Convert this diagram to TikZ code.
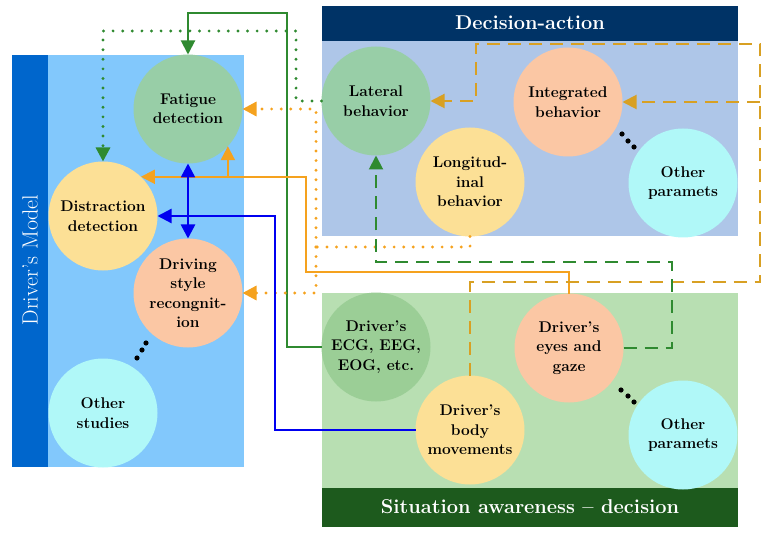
\documentclass[tikz,border=0pt]{standalone}
\usepackage{fontspec}
\usetikzlibrary{arrows.meta}

\definecolor{dmBar}{HTML}{0066CC}
\definecolor{dmFill}{HTML}{82C8FC}
\definecolor{daHead}{HTML}{003366}
\definecolor{daFill}{HTML}{AEC6E8}
\definecolor{saFill}{HTML}{B8DFB2}
\definecolor{saFoot}{HTML}{1D5A1D}
\definecolor{cGreen}{HTML}{98CEA7}
\definecolor{cGreenB}{HTML}{9BCE96}
\definecolor{cYellow}{HTML}{FCE096}
\definecolor{cPeach}{HTML}{FBC7A4}
\definecolor{cCyan}{HTML}{B0F8F8}
\definecolor{lnGreen}{HTML}{2F8A30}
\definecolor{lnOrange}{HTML}{F5A21E}
\definecolor{lnGold}{HTML}{D8A023}
\definecolor{lnBlue}{HTML}{0000F0}

\tikzstyle{circ} = [circle, minimum size=109pt, inner sep=0pt, outer sep=0pt,
                    align=center, font=\fontsize{15.5}{19.5}\selectfont\bfseries]
\tikzstyle{title} = [text=white, font=\fontsize{20}{24}\selectfont\bfseries]
\tikzstyle{arr} = [-{Triangle[length=14pt,width=14pt]}]
\tikzstyle{dotline} = [line width=3.2pt, line cap=round, dash pattern=on 0pt off 9.6pt]
\tikzstyle{dashline} = [line width=2pt, dash pattern=on 13pt off 8pt]
\tikzstyle{solidline} = [line width=2pt]

\begin{document}
\begin{tikzpicture} [x=1pt, y=-1pt]

\useasboundingbox (0,0) rectangle (771,540);

% panels
\fill[dmBar] (12,55) rectangle (48,467);
\fill[dmFill] (48,55) rectangle (244,467);
\node[text=white, rotate=90, font=\fontsize{22}{26}\selectfont]
     (DM) at (30,260) {Driver's Model};

\fill[daHead] (322,6) rectangle (738,41);
\fill[daFill] (322,41) rectangle (738,236);
\node[title] (DA) at (530,23) {Decision-action};

\fill[saFill] (322,293) rectangle (738,488);
\fill[saFoot] (322,488) rectangle (738,527);
\node[title] (SA) at (530,507) {Situation awareness -- decision};

% driver's model
\node[circ, fill=cGreen] (FD) at (188,109) {Fatigue\\detection};
\node[circ, fill=cYellow] (DD) at (103,216) {Distraction\\detection};
\node[circ, fill=cPeach] (DS) at (188,293) {Driving\\style\\recongnit-\\ion};
\node[circ, fill=cCyan] (OS) at (103,413) {Other\\studies};

% decision-action
\node[circ, fill=cGreen] (LB) at (376,101) {Lateral\\behavior};
\node[circ, fill=cPeach] (IB) at (568,102) {Integrated\\behavior};
\node[circ, fill=cYellow] (LoB) at (470,182) {Longitud-\\inal\\behavior};
\node[circ, fill=cCyan] (OPa) at (683,183) {Other\\paramets};

% situation awareness
\node[circ, fill=cGreenB] (ECG) at (376,347) {Driver's\\ECG, EEG,\\EOG, etc.};
\node[circ, fill=cPeach] (EYE) at (569,348) {Driver's\\eyes and\\gaze};
\node[circ, fill=cYellow] (BM) at (470,430) {Driver's\\body\\movements};
\node[circ, fill=cCyan] (OPb) at (683,435) {Other\\paramets};

% ellipsis dots
\foreach \x/\y in {146/343, 142/350, 137/358,
                   622/134, 628/141, 634/147,
                   621/390, 628/396, 634/402}
  \fill[black] (\x,\y) circle (2.6pt);

% connectors
\draw[solidline, lnGreen, arr] (ECG.west) -| (287,13) -| (FD.north);
\draw[dotline, lnGreen, arr] (LB.west) -| (296,31) -| (DD.north);

\coordinate (oj) at (316,247);
\draw[dotline, lnOrange] (LoB.south) |- (oj);
\draw[dotline, lnOrange, arr] (oj) |- (FD.east);
\draw[dotline, lnOrange, arr] (oj) |- (DS.east);

\draw[solidline, lnOrange, arr] (EYE.north) |- (306,272) |- (DD.46);
\draw[solidline, lnOrange, arr] (FD.-43 |- DD.46) -- (FD.-43);

\draw[line width=2.2pt, lnBlue, arr] (BM.west) -| (275,216) |- (DD.east);
\draw[line width=2.6pt, lnBlue, {Triangle[length=14pt,width=14pt]}-{Triangle[length=14pt,width=14pt]}]
      (FD.south) -- (DS.north);

\coordinate (gR) at (760,282);
\draw[dashline, lnGold, arr] (BM.north) |- (gR) -- (760,44) -| (476,101) -- (LB.east);
\draw[dashline, lnGold, arr] (gR |- IB.east) -- (IB.east);

\draw[dashline, lnGreen, arr] (EYE.east) -| (672,262) -| (LB.south);

\end{tikzpicture}
\end{document}
